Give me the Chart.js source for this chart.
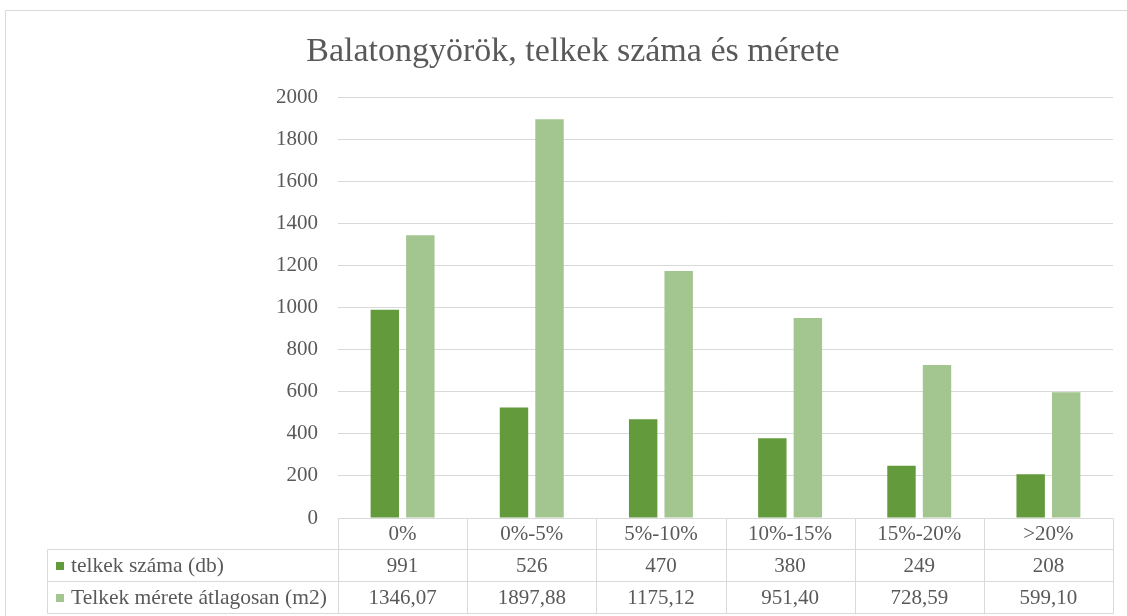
<!DOCTYPE html>
<html>
<head>
<meta charset="utf-8">
<script src="https://cdn.jsdelivr.net/npm/chart.js@4.4.1/dist/chart.umd.min.js"></script>
<style>
  html, body { margin: 0; padding: 0; background: #fff; }
</style>
</head>
<body>
<canvas id="chart" width="1127" height="616"></canvas>
<script>
// categories (slope ranges) and the two series
const categories = ["0%", "0%-5%", "5%-10%", "10%-15%", "15%-20%", ">20%"];
const telkekSzama = [991, 526, 470, 380, 249, 208];
const telkekMerete = [1346.07, 1897.88, 1175.12, 951.40, 728.59, 599.10];
const seriesLabels = ["telkek száma (db)", "Telkek mérete átlagosan (m2)"];
const yTicks = [0, 200, 400, 600, 800, 1000, 1200, 1400, 1600, 1800, 2000];

const DARK = "#629a3c";
const LIGHT = "#a3c58f";
const GRID = "#d9d9d9";
const TEXT = "#595959";
const FONT = "'Liberation Serif', 'Times New Roman', serif";

// draws the Excel-style data table under the plot + the outer frame
const dataTable = {
  id: "dataTable",
  afterDraw(chart) {
    const ctx = chart.ctx;
    const area = chart.chartArea;
    const x = chart.scales.x;
    const half = (x.getPixelForValue(1) - x.getPixelForValue(0)) / 2;
    const rowH = 32;
    const tableLeft = 47;
    const top = area.bottom;
    const r1 = top + 31, r2 = r1 + rowH, r3 = r2 + rowH;

    ctx.save();
    ctx.strokeStyle = GRID;
    ctx.lineWidth = 1;
    const line = (x1, y1, x2, y2) => {
      ctx.beginPath();
      ctx.moveTo(Math.round(x1) + 0.5, Math.round(y1) + 0.5);
      ctx.lineTo(Math.round(x2) + 0.5, Math.round(y2) + 0.5);
      ctx.stroke();
    };

    // outer chart frame (top and left edges)
    line(5, 10, chart.width, 10);
    line(5, 10, 5, chart.height);

    // horizontal lines
    line(area.left, top, area.right, top);
    line(tableLeft, r1, area.right, r1);
    line(tableLeft, r2, area.right, r2);
    line(tableLeft, r3, area.right, r3);
    // vertical lines
    line(tableLeft, r1, tableLeft, r3);
    categories.forEach((c, i) => {
      line(x.getPixelForValue(i) - half, top, x.getPixelForValue(i) - half, r3);
    });
    line(area.right, top, area.right, r3);

    ctx.fillStyle = TEXT;
    ctx.font = "21px " + FONT;
    ctx.textAlign = "center";
    ctx.textBaseline = "middle";
    const fmt = v => v.toFixed(2).replace(".", ",");
    categories.forEach((c, i) => {
      const cx = x.getPixelForValue(i);
      ctx.fillText(c, cx, (top + r1) / 2 + 1);
      ctx.fillText(String(telkekSzama[i]), cx, (r1 + r2) / 2 + 1);
      ctx.fillText(fmt(telkekMerete[i]), cx, (r2 + r3) / 2 + 1);
    });

    // legend keys + series names
    ctx.textAlign = "left";
    ctx.font = "21.5px " + FONT;
    [[DARK, (r1 + r2) / 2], [LIGHT, (r2 + r3) / 2]].forEach(([col, cy], k) => {
      ctx.fillStyle = col;
      ctx.fillRect(56, Math.round(cy) - 3, 8, 8);
      ctx.fillStyle = TEXT;
      ctx.fillText(seriesLabels[k], 71, cy + 1);
    });
    ctx.restore();
  }
};

new Chart(document.getElementById("chart"), {
  type: "bar",
  data: {
    labels: categories,
    datasets: [
      { label: seriesLabels[0], data: telkekSzama, backgroundColor: DARK },
      { label: seriesLabels[1], data: telkekMerete, backgroundColor: LIGHT }
    ]
  },
  options: {
    responsive: false,
    animation: false,
    categoryPercentage: 0.55,
    barPercentage: 0.8,
    layout: { padding: { left: 33, right: 14, top: 0, bottom: 98 } },
    plugins: {
      legend: { display: false },
      tooltip: { enabled: false },
      title: {
        display: true,
        text: "Balatongyörök, telkek száma és mérete",
        color: TEXT,
        font: { family: FONT, size: 34, weight: "normal" },
        padding: { top: 32, bottom: 25 }
      }
    },
    scales: {
      x: { display: false },
      y: {
        min: 0,
        max: 2000,
        afterFit(scale) { scale.width = 305; },
        afterBuildTicks(scale) { scale.ticks = yTicks.map(v => ({ value: v })); },
        border: { display: false },
        grid: { color: GRID, drawTicks: false },
        ticks: {
          padding: 20,
          color: TEXT,
          font: { family: FONT, size: 21 },
          callback: v => String(v)
        }
      }
    }
  },
  plugins: [dataTable]
});
</script>
</body>
</html>
